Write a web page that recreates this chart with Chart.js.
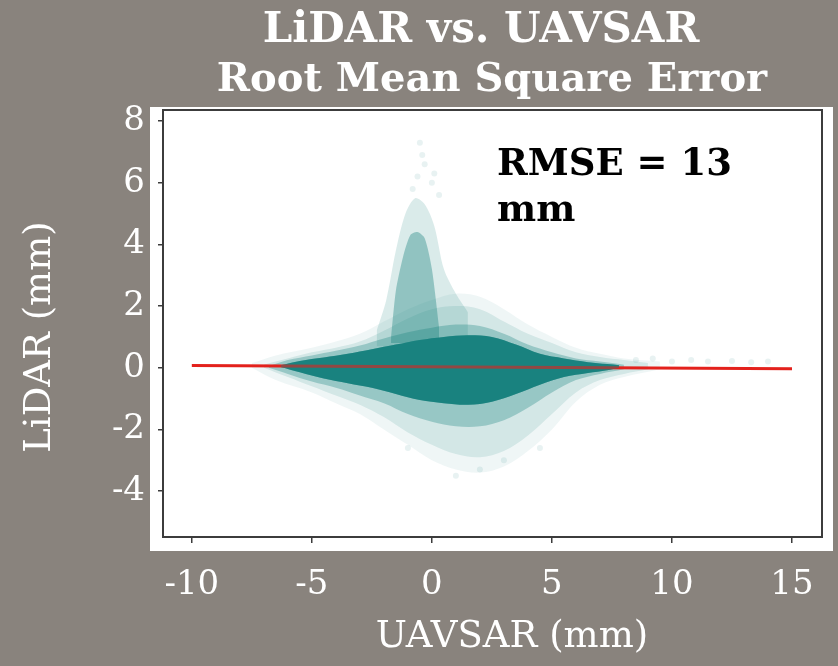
<!DOCTYPE html>
<html>
<head>
<meta charset="utf-8">
<script src="https://cdn.jsdelivr.net/npm/chart.js@4"></script>
<style>
  html, body { margin: 0; padding: 0; background: #89837d; }
  #wrap { width: 838px; height: 666px; }
</style>
</head>
<body>
<div id="wrap"><canvas id="myChart" width="838" height="666"></canvas></div>
<script>
// tick values
const xTicks = [-10, -5, 0, 5, 10, 15];
const yTicks = [-4, -2, 0, 2, 4, 6, 8];

// outermost, very sparse part of the point cloud
const outerX = [-7.5, -6.5, -5, -4, -3, -2, -1, 0, 1, 2, 3, 4, 5, 6, 7, 8, 9.5];
const outerUpper = [0.15, 0.4, 0.65, 0.85, 1.1, 1.5, 1.9, 2.2, 2.4, 2.3, 1.9, 1.4, 1.0, 0.65, 0.45, 0.3, 0.2];
const outerLower = [0.0, -0.4, -0.8, -1.15, -1.5, -2.0, -2.5, -3.0, -3.3, -3.4, -3.2, -2.7, -2.0, -1.1, -0.55, -0.3, -0.05];

// faint halo
const haloX = [-7, -6, -5, -4, -3, -2, -1, 0, 1, 2, 3, 4, 5, 6, 7, 8, 9];
const haloUpper = [0.1, 0.3, 0.5, 0.65, 0.85, 1.2, 1.6, 1.9, 2.0, 1.9, 1.5, 1.1, 0.8, 0.5, 0.35, 0.25, 0.15];
const haloLower = [0.0, -0.3, -0.6, -0.9, -1.2, -1.6, -2.1, -2.5, -2.8, -2.9, -2.7, -2.2, -1.5, -0.8, -0.4, -0.2, -0.05];

// medium density ring
const midX = [-6.8, -6, -5, -4, -3, -2, -1, 0, 1, 2, 3, 4, 5, 6, 7, 8];
const midUpper = [0.05, 0.25, 0.4, 0.55, 0.72, 0.95, 1.15, 1.3, 1.4, 1.35, 1.1, 0.75, 0.5, 0.3, 0.2, 0.1];
const midLower = [0.0, -0.2, -0.45, -0.65, -0.9, -1.15, -1.5, -1.75, -1.9, -1.9, -1.7, -1.3, -0.8, -0.4, -0.2, -0.05];

// dense core
const coreX = [-6.3, -5.5, -4.5, -3.5, -2.5, -1.5, -0.5, 0.5, 1.5, 2.5, 3.5, 4.5, 5.5, 6.5, 7.3, 7.8];
const coreUpper = [0.08, 0.22, 0.33, 0.45, 0.6, 0.75, 0.9, 1.0, 1.05, 1.0, 0.75, 0.45, 0.3, 0.18, 0.12, 0.08];
const coreLower = [0.02, -0.15, -0.35, -0.5, -0.65, -0.85, -1.05, -1.15, -1.2, -1.1, -0.85, -0.55, -0.3, -0.17, -0.08, 0.0];

// vertical spike near x = -0.7
const spikeOuterX = [-2.3, -1.9, -1.5, -1.1, -0.7, -0.3, 0.1, 0.5, 1.0, 1.5];
const spikeOuterUpper = [1.2, 2.2, 3.8, 5.0, 5.5, 5.3, 4.6, 3.2, 2.4, 1.8];
const spikeOuterLower = [0.7, 0.7, 0.7, 0.7, 0.7, 0.7, 0.7, 0.7, 0.7, 0.7];
const spikeInnerX = [-1.7, -1.5, -1.2, -0.9, -0.6, -0.3, 0.0, 0.3];
const spikeInnerUpper = [1.0, 2.5, 3.6, 4.3, 4.4, 4.2, 3.2, 1.3];
const spikeInnerLower = [0.8, 0.8, 0.8, 0.8, 0.8, 0.8, 0.8, 0.8];

// scattered outliers
const sparseX = [-0.5, -0.3, -0.6, 0.0, -0.8, 0.3, -0.4, 0.1, 8.5, 9.2, 10.0, 10.8, 11.5, 12.5, 13.3, 14.0, 2.0, 3.0, 1.0, 4.5, -1.0];
const sparseY = [7.3, 6.6, 6.2, 6.0, 5.8, 5.6, 6.9, 6.3, 0.25, 0.3, 0.2, 0.25, 0.2, 0.22, 0.18, 0.2, -3.3, -3.0, -3.5, -2.6, -2.6];

// regression line
const fitX = [-10, 15];
const fitY = [0.07, -0.03];

const teal = "26, 131, 127";
const pts = (xs, ys) => xs.map((x, i) => ({ x: x, y: ys[i] }));

const datasets = [];
// later datasets are drawn on top
function push(ds) {
    ds.order = -datasets.length;
    datasets.push(ds);
}
function addBand(xs, lo, hi, color, tension) {
    push({ data: pts(xs, lo), showLine: true, borderWidth: 0, borderColor: "transparent",
        pointRadius: 0, tension: tension, fill: false });
    push({ data: pts(xs, hi), showLine: true, borderWidth: 0, borderColor: "transparent",
        pointRadius: 0, tension: tension, fill: "-1", backgroundColor: color });
}
addBand(outerX, outerLower, outerUpper, `rgba(${teal}, 0.07)`, 0.35);
addBand(haloX, haloLower, haloUpper, `rgba(${teal}, 0.13)`, 0.35);
addBand(midX, midLower, midUpper, `rgba(${teal}, 0.32)`, 0.35);
addBand(spikeOuterX, spikeOuterLower, spikeOuterUpper, `rgba(${teal}, 0.16)`, 0.3);
addBand(spikeInnerX, spikeInnerLower, spikeInnerUpper, `rgba(${teal}, 0.38)`, 0.25);
addBand(coreX, coreLower, coreUpper, `rgb(${teal})`, 0.35);

push({
    data: pts(sparseX, sparseY),
    pointRadius: 3,
    pointBorderWidth: 0,
    backgroundColor: `rgba(${teal}, 0.1)`,
});
push({
    data: pts(fitX, fitY),
    showLine: true,
    borderColor: "#e3211c",
    borderWidth: 3,
    pointRadius: 0,
    fill: false,
});
// points of the core drawn over the fit line darken it inside the cloud
addBand(coreX, coreLower, coreUpper, `rgba(${teal}, 0.4)`, 0.35);

const frame = {
    id: "frame",
    beforeDraw(chart) {
        const { ctx, chartArea: a } = chart;
        ctx.save();
        ctx.fillStyle = "#89837d";
        ctx.fillRect(0, 0, chart.width, chart.height);
        ctx.fillStyle = "#ffffff";
        ctx.fillRect(a.left - 13, a.top - 3, a.right - a.left + 24, a.bottom - a.top + 17);
        ctx.restore();
    },
    afterDatasetsDraw(chart) {
        const { ctx, chartArea: a } = chart;
        ctx.save();
        ctx.strokeStyle = "#3c3c3c";
        ctx.lineWidth = 2;
        ctx.strokeRect(a.left, a.top, a.right - a.left, a.bottom - a.top);
        ctx.restore();
    },
    afterDraw(chart) {
        const { ctx } = chart;
        ctx.save();
        ctx.fillStyle = "#ffffff";
        ctx.textAlign = "center";
        ctx.textBaseline = "middle";
        ctx.font = "bold 42px 'DejaVu Serif'";
        ctx.fillText("LiDAR vs. UAVSAR", 481, 31);
        ctx.font = "bold 40px 'DejaVu Serif'";
        ctx.fillText("Root Mean Square Error", 492, 81);
        ctx.font = "37px 'DejaVu Serif'";
        ctx.fillText("UAVSAR (mm)", 512, 637);
        ctx.save();
        ctx.translate(40, 337);
        ctx.rotate(-Math.PI / 2);
        ctx.fillText("LiDAR (mm)", 0, 0);
        ctx.restore();
        ctx.fillStyle = "#000000";
        ctx.textAlign = "left";
        ctx.textBaseline = "alphabetic";
        ctx.font = "bold 37px 'DejaVu Serif'";
        ctx.fillText("RMSE = 13", 497, 175);
        ctx.fillText("mm", 497, 221);
        ctx.restore();
    },
};

new Chart(document.querySelector("#myChart"), {
    type: "scatter",
    data: { datasets: datasets },
    options: {
        responsive: false,
        animation: false,
        devicePixelRatio: 1,
        layout: { padding: { top: 110, right: 16, left: 0, bottom: 0 } },
        plugins: { legend: { display: false }, tooltip: { enabled: false } },
        scales: {
            x: {
                type: "linear",
                min: -11.2,
                max: 16.25,
                afterBuildTicks: (s) => { s.ticks = xTicks.map((v) => ({ value: v })); },
                afterFit: (s) => { s.height = 129; },
                grid: { drawOnChartArea: false, drawTicks: true, tickLength: 6, color: "#3c3c3c", lineWidth: 1.5 },
                border: { display: false },
                ticks: { color: "#ffffff", padding: 22, font: { family: "DejaVu Serif", size: 34 }, maxRotation: 0 },
            },
            y: {
                type: "linear",
                min: -5.49,
                max: 8.36,
                afterBuildTicks: (s) => { s.ticks = yTicks.map((v) => ({ value: v })); },
                afterFit: (s) => { s.width = 163; },
                grid: { drawOnChartArea: false, drawTicks: true, tickLength: 5, color: "#3c3c3c", lineWidth: 1.5 },
                border: { display: false },
                ticks: { color: "#ffffff", padding: 13, font: { family: "DejaVu Serif", size: 34 } },
            },
        },
    },
    plugins: [frame],
});
</script>
</body>
</html>
